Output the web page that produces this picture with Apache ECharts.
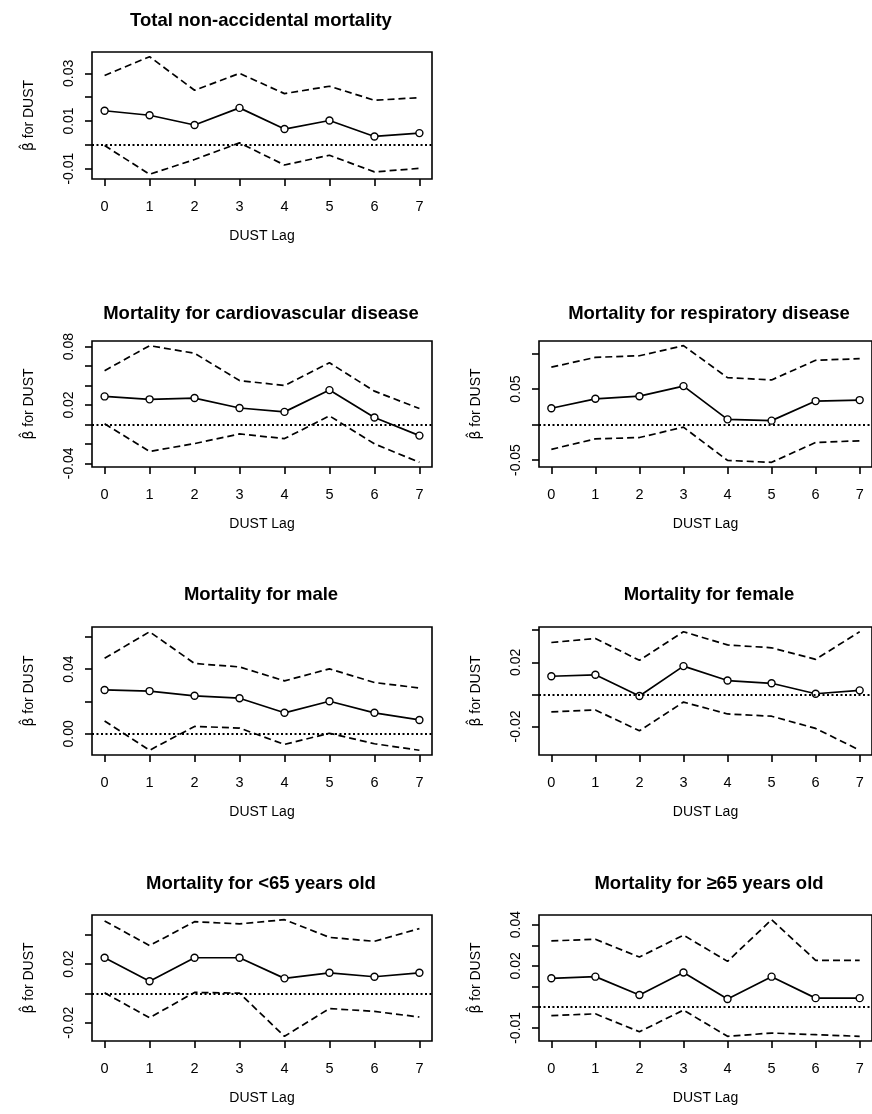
<!DOCTYPE html>
<html>
<head>
<meta charset="utf-8">
<title>DUST lag effects on mortality</title>
<script src="https://cdn.jsdelivr.net/npm/echarts@6/dist/echarts.min.js"></script>
<style>
  html, body { margin: 0; padding: 0; background: #fff; }
  #chart { width: 872px; height: 1114px; }
</style>
</head>
<body>
<div id="chart"></div>
<script>
// lag days on the x axis
const lags = [0, 1, 2, 3, 4, 5, 6, 7];

// beta estimates and 95% bounds
const totalEst   = [0.0143, 0.0124, 0.0083, 0.0155, 0.0066, 0.0102, 0.0035, 0.0049];
const totalUpper = [0.0291, 0.0370, 0.0229, 0.0300, 0.0215, 0.0246, 0.0187, 0.0198];
const totalLower = [-0.0003, -0.0124, -0.0062, 0.0008, -0.0085, -0.0044, -0.0114, -0.0099];

const cardioEst   = [0.0288, 0.0258, 0.0271, 0.0169, 0.0129, 0.0353, 0.0071, -0.0115];
const cardioUpper = [0.0553, 0.0810, 0.0732, 0.0451, 0.0400, 0.0634, 0.0342, 0.0163];
const cardioLower = [0.0007, -0.0278, -0.0197, -0.0098, -0.0146, 0.0088, -0.0200, -0.0390];

const respEst   = [0.0229, 0.0362, 0.0399, 0.0541, 0.0073, 0.0055, 0.0330, 0.0344];
const respUpper = [0.0807, 0.0945, 0.0968, 0.1110, 0.0660, 0.0628, 0.0904, 0.0927];
const respLower = [-0.0349, -0.0202, -0.0183, -0.0037, -0.0505, -0.0532, -0.0252, -0.0229];

const maleEst   = [0.0271, 0.0264, 0.0235, 0.0220, 0.0130, 0.0201, 0.0130, 0.0086];
const maleUpper = [0.0466, 0.0630, 0.0434, 0.0413, 0.0327, 0.0401, 0.0317, 0.0283];
const maleLower = [0.0080, -0.0101, 0.0046, 0.0036, -0.0065, 0.0004, -0.0061, -0.0101];

const femaleEst   = [0.0113, 0.0122, -0.0010, 0.0176, 0.0086, 0.0069, 0.0004, 0.0025];
const femaleUpper = [0.0323, 0.0348, 0.0212, 0.0390, 0.0308, 0.0290, 0.0218, 0.0390];
const femaleLower = [-0.0109, -0.0097, -0.0227, -0.0048, -0.0122, -0.0136, -0.0212, -0.0348];

const youngEst   = [0.0244, 0.0083, 0.0244, 0.0244, 0.0103, 0.0141, 0.0114, 0.0141];
const youngUpper = [0.0495, 0.0327, 0.0490, 0.0475, 0.0504, 0.0383, 0.0356, 0.0443];
const youngLower = [0.0004, -0.0166, 0.0007, 0.0002, -0.0293, -0.0103, -0.0123, -0.0161];

const oldEst   = [0.0140, 0.0148, 0.0059, 0.0168, 0.0040, 0.0148, 0.0044, 0.0044];
const oldUpper = [0.0321, 0.0329, 0.0243, 0.0349, 0.0222, 0.0424, 0.0227, 0.0227];
const oldLower = [-0.0041, -0.0032, -0.0119, -0.0014, -0.0141, -0.0125, -0.0133, -0.0141];

// y tick marks and the ones that carry a label
const totalTicks  = [-0.01, 0, 0.01, 0.02, 0.03];
const totalLabels = [-0.01, 0.01, 0.03];
const cardioTicks  = [-0.04, -0.02, 0, 0.02, 0.04, 0.06, 0.08];
const cardioLabels = [-0.04, 0.02, 0.08];
const respTicks  = [-0.05, 0, 0.05, 0.10];
const respLabels = [-0.05, 0.05];
const maleTicks  = [0, 0.02, 0.04, 0.06];
const maleLabels = [0, 0.04];
const femaleTicks  = [-0.02, 0, 0.02, 0.04];
const femaleLabels = [-0.02, 0.02];
const youngTicks  = [-0.02, 0, 0.02, 0.04];
const youngLabels = [-0.02, 0.02];
const oldTicks  = [-0.01, 0, 0.01, 0.02, 0.03, 0.04];
const oldLabels = [-0.01, 0.02, 0.04];

const titles = [
  'Total non-accidental mortality',
  'Mortality for cardiovascular disease',
  'Mortality for respiratory disease',
  'Mortality for male',
  'Mortality for female',
  'Mortality for <65 years old',
  'Mortality for \u226565 years old'
];

const panels = [
  { est: totalEst,  upper: totalUpper,  lower: totalLower,  ticks: totalTicks,  labels: totalLabels,  col: 0, row: 0 },
  { est: cardioEst, upper: cardioUpper, lower: cardioLower, ticks: cardioTicks, labels: cardioLabels, col: 0, row: 1 },
  { est: respEst,   upper: respUpper,   lower: respLower,   ticks: respTicks,   labels: respLabels,   col: 1, row: 1 },
  { est: maleEst,   upper: maleUpper,   lower: maleLower,   ticks: maleTicks,   labels: maleLabels,   col: 0, row: 2 },
  { est: femaleEst, upper: femaleUpper, lower: femaleLower, ticks: femaleTicks, labels: femaleLabels, col: 1, row: 2 },
  { est: youngEst,  upper: youngUpper,  lower: youngLower,  ticks: youngTicks,  labels: youngLabels,  col: 0, row: 3 },
  { est: oldEst,    upper: oldUpper,    lower: oldLower,    ticks: oldTicks,    labels: oldLabels,    col: 1, row: 3 }
];

// page layout
const colLeft = [92, 539];
const colWidth = [340, 342];
const rowTop = [52, 341, 627, 915];
const rowHeight = [127, 126, 128, 126];
const titleTop = [6, 299, 580, 869];

const font = '"Liberation Sans", Arial, sans-serif';
const black = '#000';

const chart = echarts.init(document.getElementById('chart'));

let grid = [], xAxis = [], yAxis = [], title = [], series = [];

panels.forEach(function (p, i) {
  const all = p.est.concat(p.upper, p.lower);
  const lo = Math.min.apply(null, all);
  const hi = Math.max.apply(null, all);
  const pad = (hi - lo) * 0.04;
  const left = colLeft[p.col], width = colWidth[p.col];

  grid.push({
    left: left, top: rowTop[p.row], width: width, height: rowHeight[p.row],
    show: true, borderColor: black, borderWidth: 1.6, backgroundColor: 'transparent'
  });

  title.push({
    text: titles[i],
    left: left + width / 2 - 6,
    top: titleTop[p.row],
    textAlign: 'center',
    textStyle: { fontFamily: font, fontSize: 18.5, fontWeight: 'bold', color: black }
  });

  xAxis.push({
    type: 'value', gridIndex: i, min: -0.28, max: 7.28,
    name: 'DUST Lag', nameLocation: 'middle', nameGap: 50,
    nameTextStyle: { fontFamily: font, fontSize: 14, color: black },
    axisLine: { show: false, onZero: false },
    axisTick: { show: true, length: 7, customValues: lags, lineStyle: { color: black, width: 1.6 } },
    axisLabel: { customValues: lags, margin: 20, fontFamily: font, fontSize: 14.5, color: black },
    splitLine: { show: false }
  });

  yAxis.push({
    type: 'value', gridIndex: i, min: lo - pad, max: hi + pad,
    name: '{b|\u03B2\u0302} for DUST', nameLocation: 'middle', nameRotate: 90, nameGap: 56,
    nameTextStyle: {
      fontFamily: font, fontSize: 14, color: black,
      rich: { b: { fontFamily: '"DejaVu Sans"', fontSize: 14, color: black } }
    },
    axisLine: { show: false, onZero: false },
    axisTick: { show: true, length: 7, customValues: p.ticks, lineStyle: { color: black, width: 1.6 } },
    axisLabel: {
      customValues: p.labels, rotate: 90, margin: 16,
      fontFamily: font, fontSize: 14, color: black,
      formatter: function (v) { return v.toFixed(2); }
    },
    splitLine: { show: false }
  });

  const pairs = function (vals) { return lags.map(function (l, k) { return [l, vals[k]]; }); };

  ['upper', 'lower'].forEach(function (k) {
    series.push({
      type: 'line', xAxisIndex: i, yAxisIndex: i, data: pairs(p[k]),
      symbol: 'none', silent: true,
      lineStyle: { color: black, width: 1.7, type: [7, 4] }
    });
  });

  series.push({
    type: 'line', xAxisIndex: i, yAxisIndex: i, data: pairs(p.est),
    symbol: 'circle', symbolSize: 7, showAllSymbol: true, silent: true,
    lineStyle: { color: black, width: 1.7 },
    itemStyle: { color: '#fff', borderColor: black, borderWidth: 1.4 },
    markLine: {
      silent: true, symbol: 'none', label: { show: false },
      lineStyle: { color: black, width: 2, type: [2, 2.5] },
      data: [{ yAxis: 0 }]
    },
    z: 3
  });
});

chart.setOption({
  animation: false,
  backgroundColor: '#fff',
  title: title,
  grid: grid,
  xAxis: xAxis,
  yAxis: yAxis,
  series: series
});
</script>
</body>
</html>
